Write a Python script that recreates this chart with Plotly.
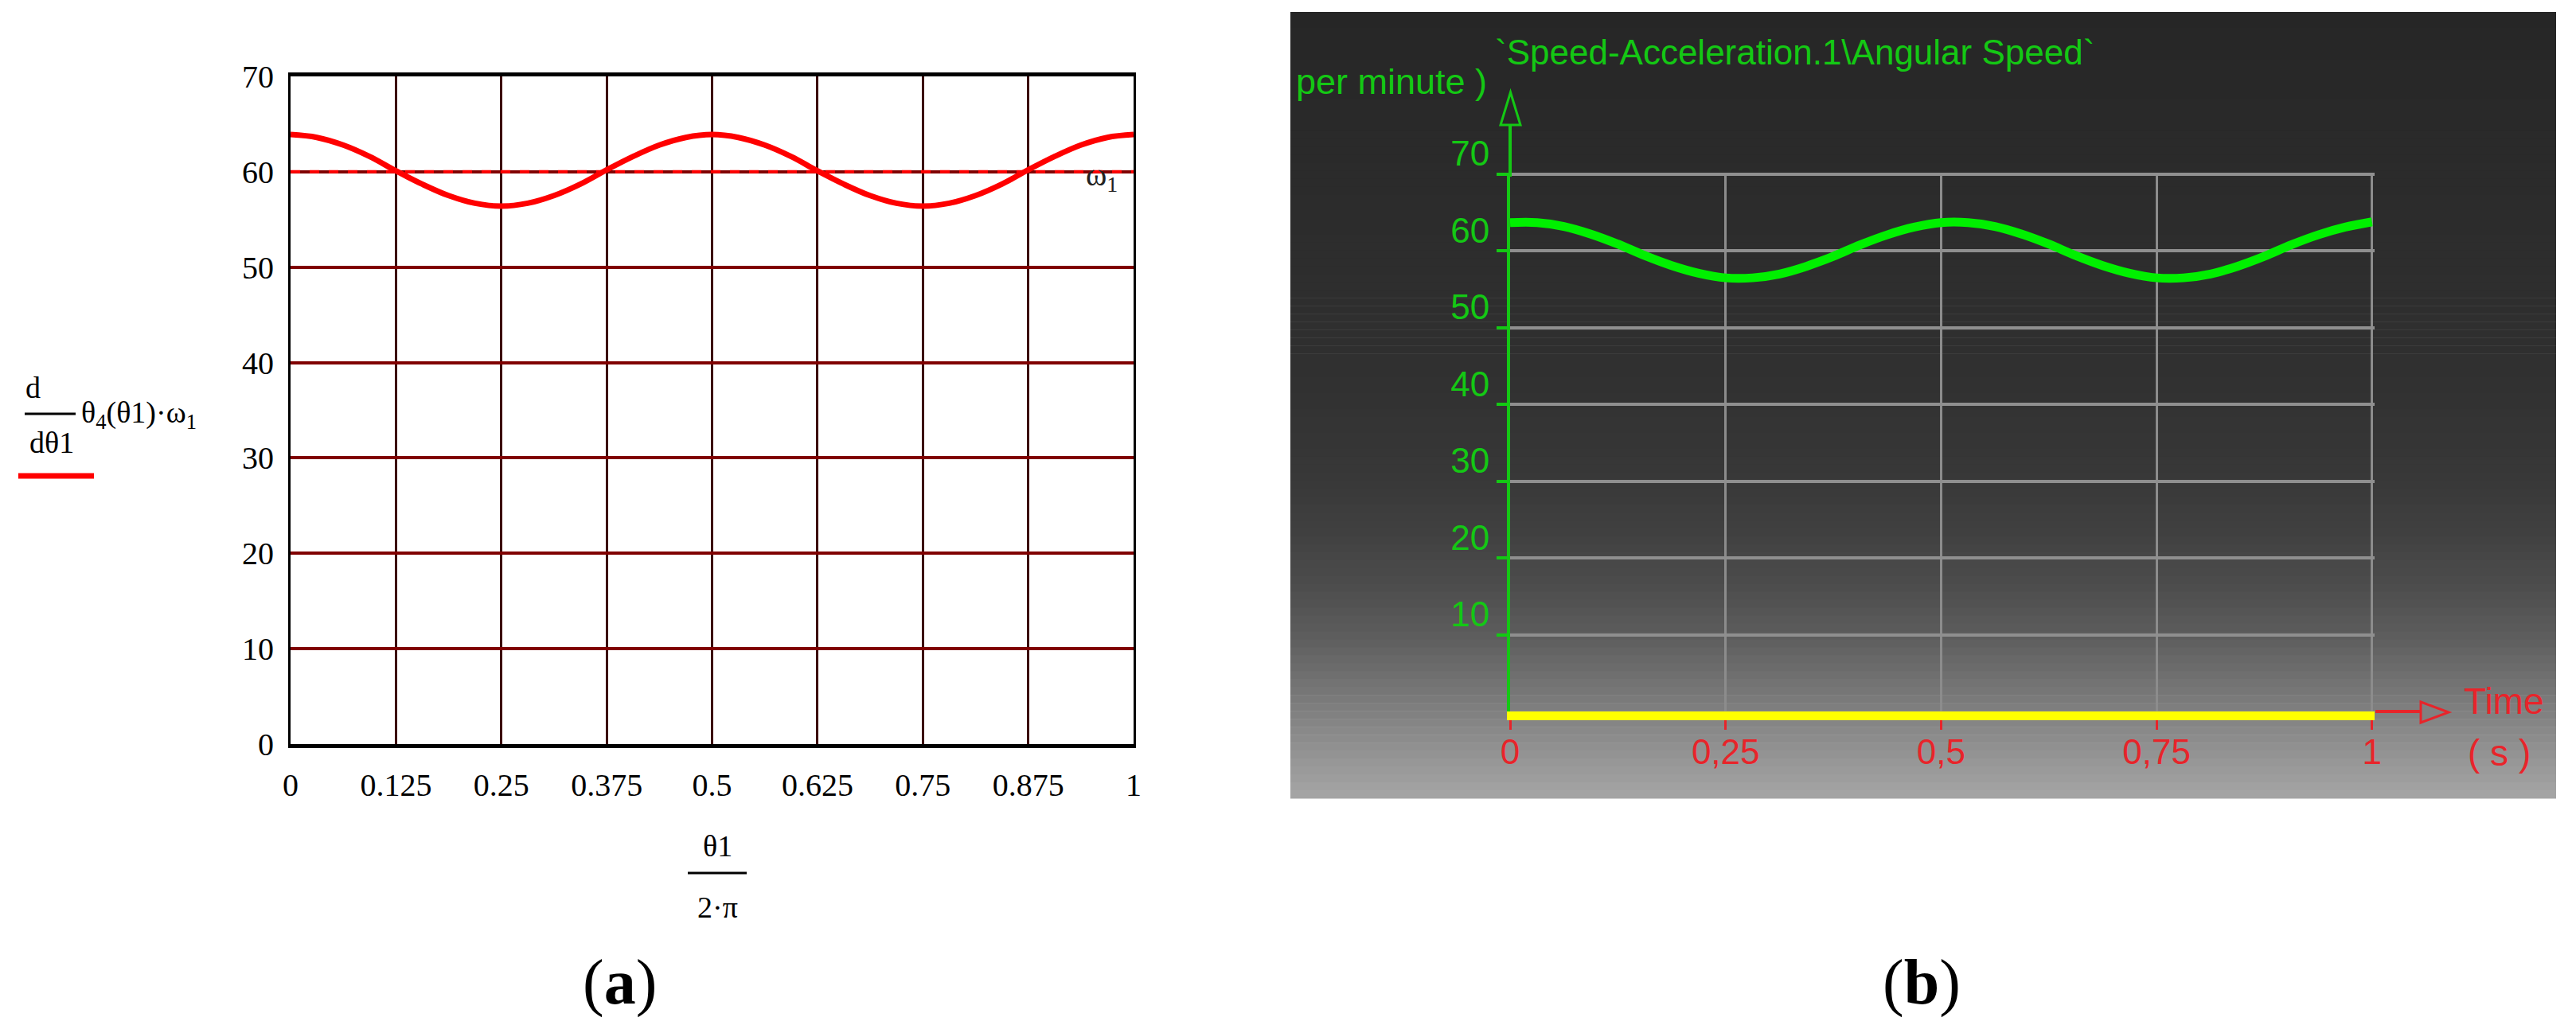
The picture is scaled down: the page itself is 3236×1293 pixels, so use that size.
import numpy as np
import plotly.graph_objects as go

W, H = 3236, 1293

# ---------------- data ----------------
# Panel (a): Mathcad plot, x = theta1 / (2*pi)
theta_ratio = [0, 0.03125, 0.0625, 0.09375, 0.125, 0.15625, 0.1875, 0.21875, 0.25,
               0.28125, 0.3125, 0.34375, 0.375, 0.40625, 0.4375, 0.46875, 0.5,
               0.53125, 0.5625, 0.59375, 0.625, 0.65625, 0.6875, 0.71875, 0.75,
               0.78125, 0.8125, 0.84375, 0.875, 0.90625, 0.9375, 0.96875, 1]
speed_a = [63.9, 63.6, 62.8, 61.6, 60.1, 58.7, 57.5, 56.7, 56.4,
           56.7, 57.5, 58.7, 60.2, 61.6, 62.8, 63.6, 63.9,
           63.6, 62.8, 61.6, 60.1, 58.7, 57.5, 56.7, 56.4,
           56.7, 57.5, 58.7, 60.2, 61.6, 62.8, 63.6, 63.9]
omega1 = 60
a_xticks = [0, 0.125, 0.25, 0.375, 0.5, 0.625, 0.75, 0.875, 1]
a_xlabels = ["0", "0.125", "0.25", "0.375", "0.5", "0.625", "0.75", "0.875", "1"]
a_yticks = [0, 10, 20, 30, 40, 50, 60, 70]

# Panel (b): CATIA angular speed vs time (s)
time_s = theta_ratio
speed_b = [63.7, 63.7, 63.2, 62.2, 60.9, 59.4, 58.1, 57.1, 56.5,
           56.5, 57.0, 58.0, 59.3, 60.8, 62.1, 63.1, 63.7,
           63.7, 63.2, 62.2, 60.9, 59.4, 58.1, 57.1, 56.5,
           56.5, 57.0, 58.0, 59.3, 60.8, 62.1, 63.1, 63.8]
b_xticks = [0, 0.25, 0.5, 0.75, 1]
b_xlabels = ["0", "0,25", "0,5", "0,75", "1"]
b_yticks = [10, 20, 30, 40, 50, 60, 70]


# ---------------- helpers ----------------
def px(x):
    return x / W


def py(y):
    return 1 - y / H


SERIF = "Liberation Serif, Times New Roman, serif"
SANS = "Liberation Sans, Arial, sans-serif"
GREEN = "#14c814"
RED_B = "#e8242a"

fig = go.Figure()

# panel (a) traces
fig.add_trace(go.Scatter(x=[0, 1], y=[omega1, omega1], mode="lines",
                         line=dict(color="#ff0000", width=4, dash="12px,12px"),
                         xaxis="x", yaxis="y", hoverinfo="skip"))
fig.add_trace(go.Scatter(x=theta_ratio, y=speed_a, mode="lines",
                         line=dict(color="#ff0000", width=7, shape="spline"),
                         xaxis="x", yaxis="y"))
# panel (b) trace
fig.add_trace(go.Scatter(x=time_s, y=speed_b, mode="lines",
                         line=dict(color="#00f000", width=11, shape="spline"),
                         xaxis="x2", yaxis="y2"))

shapes = []
# gradient background of panel (b)
stops_y = [15, 270, 470, 600, 667, 733, 800, 867, 933, 1003]
stops_v = [38, 44, 48, 56, 64, 76, 93, 118, 142, 166]
edges = np.linspace(15, 1003, 100)
for y0, y1 in zip(edges[:-1], edges[1:]):
    v = int(round(np.interp((y0 + y1) / 2, stops_y, stops_v)))
    shapes.append(dict(type="rect", xref="paper", yref="paper",
                       x0=px(1621), x1=px(3211), y0=py(y1 + 0.6), y1=py(y0),
                       fillcolor=f"rgb({v},{v},{v})", line=dict(width=0), layer="below"))

# panel (a) axis title decorations
shapes.append(dict(type="line", xref="paper", yref="paper", x0=px(31), x1=px(95),
                   y0=py(520), y1=py(520), line=dict(color="black", width=3)))
shapes.append(dict(type="line", xref="paper", yref="paper", x0=px(23), x1=px(118),
                   y0=py(598), y1=py(598), line=dict(color="#ff0000", width=7)))
shapes.append(dict(type="line", xref="paper", yref="paper", x0=px(864), x1=px(938),
                   y0=py(1097), y1=py(1097), line=dict(color="black", width=3)))

# panel (b) axis arrows
shapes.append(dict(type="line", xref="paper", yref="paper", x0=px(1897), x1=px(1897),
                   y0=py(222), y1=py(157), line=dict(color=GREEN, width=4)))
shapes.append(dict(type="path", xref="paper", yref="paper",
                   path=f"M {px(1885)} {py(157)} L {px(1910)} {py(157)} L {px(1897.5)} {py(116)} Z",
                   fillcolor="rgb(40,40,40)", line=dict(color=GREEN, width=3)))
shapes.append(dict(type="line", xref="paper", yref="paper", x0=px(2984), x1=px(3043),
                   y0=py(894), y1=py(894), line=dict(color=RED_B, width=4)))
shapes.append(dict(type="path", xref="paper", yref="paper",
                   path=f"M {px(3041)} {py(882)} L {px(3041)} {py(908)} L {px(3076)} {py(895)} Z",
                   fillcolor="rgb(128,128,128)", line=dict(color=RED_B, width=3)))

annotations = []


def ann(text, x, y, size, color="black", family=SERIF, xanchor="center", yanchor="middle"):
    annotations.append(dict(text=text, x=px(x), y=py(y), xref="paper", yref="paper",
                            showarrow=False, xanchor=xanchor, yanchor=yanchor,
                            font=dict(family=family, size=size, color=color)))


# panel (a) texts
ann("d", 41, 487, 38)
ann("dθ1", 65, 556, 38)
ann("θ<sub>4</sub>(θ1)·ω<sub>1</sub>", 100, 521, 38, xanchor="left")
ann("θ1", 901, 1063, 38)
ann("2·π", 901, 1140, 38)
ann("ω<sub>1</sub>", 1362, 222, 40, color="#222222", xanchor="left")
ann("(<b>a</b>)", 778, 1234, 80)
ann("(<b>b</b>)", 2414, 1234, 80)

# panel (b) texts
ann("`Speed-Acceleration.1\\Angular Speed`", 1876, 66, 44, color=GREEN, family=SANS, xanchor="left")
ann("per minute )", 1870, 103, 45, color=GREEN, family=SANS, xanchor="right")
ann("Time", 3093, 881, 46, color=RED_B, family=SANS, xanchor="left")
ann("( s )", 3098, 946, 46, color=RED_B, family=SANS, xanchor="left")

fig.update_layout(
    width=W, height=H, autosize=False,
    margin=dict(l=0, r=0, t=0, b=0, pad=0, autoexpand=False),
    paper_bgcolor="white", plot_bgcolor="rgba(0,0,0,0)",
    showlegend=False,
    shapes=shapes, annotations=annotations,
    xaxis=dict(domain=[px(365), px(1424)], range=[0, 1], anchor="y",
               tickvals=a_xticks, ticktext=a_xlabels, ticks="",
               showgrid=True, gridcolor="#3c0000", gridwidth=3,
               showline=True, linecolor="black", linewidth=5, mirror=True,
               zeroline=False, tickfont=dict(family=SERIF, size=40, color="black"),
               ticklabelstandoff=12, fixedrange=True, automargin=False),
    yaxis=dict(domain=[py(935), py(96)], range=[0, 70], anchor="x",
               tickvals=a_yticks, ticks="",
               showgrid=True, gridcolor="#800000", gridwidth=4,
               showline=True, linecolor="black", linewidth=3, mirror=True,
               zeroline=False, tickfont=dict(family=SERIF, size=40, color="black"),
               ticklabelstandoff=10, fixedrange=True, automargin=False),
    xaxis2=dict(domain=[px(1897), px(2983)], range=[0, 1.003], anchor="y2",
                tickvals=b_xticks, ticktext=b_xlabels,
                ticks="outside", ticklen=12, tickwidth=3, tickcolor=RED_B,
                showgrid=True, gridcolor="#8c8c8c", gridwidth=3,
                showline=True, linecolor="#ffff00", linewidth=11,
                zeroline=False, tickfont=dict(family=SANS, size=44, color=RED_B),
                ticklabelstandoff=-10, fixedrange=True, automargin=False),
    yaxis2=dict(domain=[py(894), py(217)], range=[0, 70.2], anchor="x2",
                tickvals=b_yticks,
                ticks="outside", ticklen=13, tickwidth=4, tickcolor=GREEN,
                showgrid=True, gridcolor="#8f8f8f", gridwidth=4,
                showline=True, linecolor=GREEN, linewidth=4,
                zeroline=False, tickfont=dict(family=SANS, size=44, color=GREEN),
                ticklabelshift=-26, ticklabelstandoff=0, fixedrange=True, automargin=False),
)

fig.write_html("out.html", config={"responsive": False, "displayModeBar": False},
               post_script="document.body.style.margin='0px';document.body.style.padding='0px';")
